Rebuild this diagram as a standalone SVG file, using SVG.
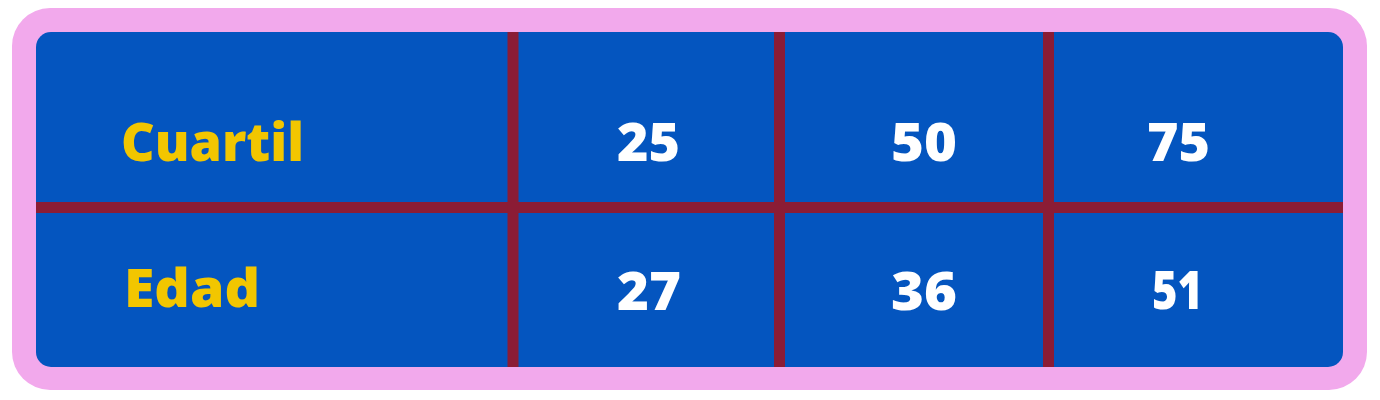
<svg xmlns="http://www.w3.org/2000/svg" width="1380" height="400" viewBox="0 0 1380 400">
  <style>
    .lbl { font-family: "Open Sans", "DejaVu Sans", sans-serif; font-weight: 800; font-size: 53px; fill: #F2C600; }
    .num { font-family: "Open Sans", "DejaVu Sans", sans-serif; font-weight: 800; font-size: 53px; fill: #FFFFFF; }
    .grid { stroke: #8B1C35; stroke-width: 11; fill: none; }
  </style>
  <rect width="1380" height="400" fill="#FFFFFF"/>
  <g id="frame">
    <rect x="12" y="8" width="1355" height="382" rx="38" ry="38" fill="#F2A9EC"/>
    <rect x="36" y="32" width="1307" height="335" rx="15" ry="15" fill="#0455BF"/>
  </g>
  <g id="connectors">
    <line class="grid" x1="36" y1="207.5" x2="1343" y2="207.5"/>
    <line class="grid" x1="513" y1="32" x2="513" y2="367"/>
    <line class="grid" x1="779.5" y1="32" x2="779.5" y2="367"/>
    <line class="grid" x1="1048.5" y1="32" x2="1048.5" y2="367"/>
  </g>
  <g id="row-cuartil">
    <text class="lbl" x="121" y="161" textLength="183" lengthAdjust="spacingAndGlyphs">Cuartil</text>
    <text class="num" x="617" y="161" textLength="63" lengthAdjust="spacingAndGlyphs">25</text>
    <text class="num" x="891" y="161" textLength="66" lengthAdjust="spacingAndGlyphs">50</text>
    <text class="num" x="1147" y="161" textLength="63" lengthAdjust="spacingAndGlyphs">75</text>
  </g>
  <g id="row-edad">
    <text class="lbl" x="124" y="307" textLength="136" lengthAdjust="spacingAndGlyphs">Edad</text>
    <text class="num" x="617" y="310" textLength="64" lengthAdjust="spacingAndGlyphs">27</text>
    <text class="num" x="891" y="310" textLength="66" lengthAdjust="spacingAndGlyphs">36</text>
    <text class="num" x="1152" y="309" textLength="51" lengthAdjust="spacingAndGlyphs">51</text>
  </g>
</svg>
